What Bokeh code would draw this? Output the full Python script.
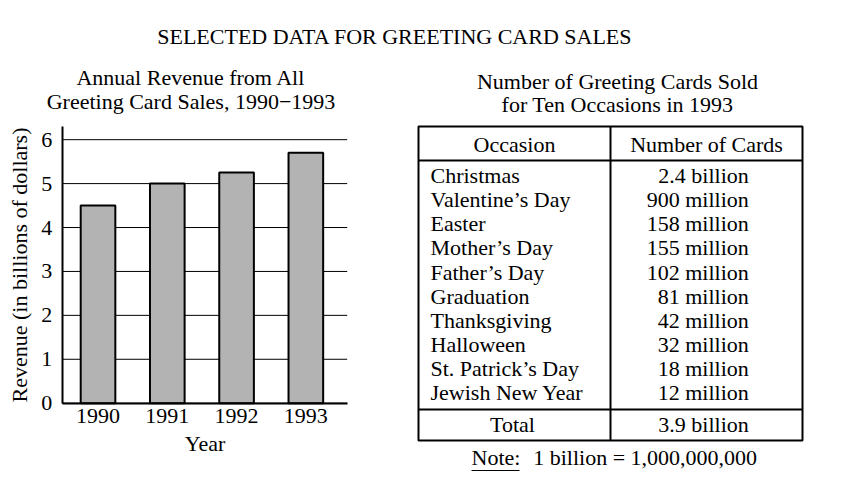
from bokeh.plotting import figure
from bokeh.models import Range1d, FixedTicker, ColumnDataSource, LinearAxis
from bokeh.core.properties import value
from bokeh.embed import file_html
from bokeh.resources import INLINE

# ---------------- data ----------------
main_title = "SELECTED DATA FOR GREETING CARD SALES"
chart_title = ["Annual Revenue from All", "Greeting Card Sales, 1990\u22121993"]
table_title = ["Number of Greeting Cards Sold", "for Ten Occasions in 1993"]

years = [1990, 1991, 1992, 1993]
revenue = [4.5, 5.0, 5.25, 5.7]
y_ticks = [0, 1, 2, 3, 4, 5, 6]
x_label = "Year"
y_label = "Revenue (in billions of dollars)"

table_headers = ["Occasion", "Number of Cards"]
occasions = ["Christmas", "Valentine\u2019s Day", "Easter", "Mother\u2019s Day",
             "Father\u2019s Day", "Graduation", "Thanksgiving", "Halloween",
             "St. Patrick\u2019s Day", "Jewish New Year"]
cards = ["2.4 billion", "900 million", "158 million", "155 million",
         "102 million", "81 million", "42 million", "32 million",
         "18 million", "12 million"]
total_label = "Total"
total_value = "3.9 billion"
note_label = "Note:"
note_text = "1 billion = 1,000,000,000"

FONT = "Liberation Serif"
FS = "22px"

# ---------------- canvas (one figure, pixel-like base ranges) ----------------
W, H = 840, 486
OX, OY = 0, 0   # page offset of the canvas
TDY = 8         # vertical correction for text baselines


def X(px):
    return px - OX


def Y(py):
    return (OY + H) - py


def TY(py):
    return Y(py - TDY)


# bar-chart box (page pixels) and its data extents
BX0, BX1 = 61.7, 346.7
BY0, BY1 = 402.7, 126.0
yr_lo, yr_hi = 1989.483, 1993.597
rv_lo, rv_hi = 0.0, 6.3
sx = (yr_hi - yr_lo) / (BX1 - BX0)
sy = (rv_hi - rv_lo) / (BY0 - BY1)
yr_start = yr_lo - (BX0 - OX) * sx
yr_end = yr_hi + (OX + W - BX1) * sx
rv_start = rv_lo - (OY + H - BY0) * sy
rv_end = rv_hi + (BY1 - OY) * sy

p = figure(width=W, height=H, x_range=Range1d(0, W), y_range=Range1d(0, H),
           output_backend="svg", toolbar_location=None, min_border=0,
           x_axis_location=None, y_axis_location=None)
p.grid.visible = False
p.outline_line_color = None
p.extra_x_ranges = {"yr": Range1d(yr_start, yr_end)}
p.extra_y_ranges = {"rv": Range1d(rv_start, rv_end)}


def txt(xs, ys, texts, align):
    p.text(x=xs, y=ys, text=texts, text_font=value(FONT), text_font_size=FS,
           text_align=align, text_baseline="alphabetic", text_color="black")


# ---------------- titles ----------------
txt([X(394.5)], [TY(44)], [main_title], "center")
txt([X(190.5)] * 2, [TY(85), TY(109)], chart_title, "center")
txt([X(617)] * 2, [TY(89), TY(112)], table_title, "center")

# ---------------- bar chart ----------------
p.segment(x0=[yr_lo] * len(y_ticks), x1=[yr_hi] * len(y_ticks), y0=y_ticks, y1=y_ticks,
          x_range_name="yr", y_range_name="rv", line_color="black", line_width=1,
          level="underlay")
src = ColumnDataSource(dict(x=years, top=revenue))
p.vbar(x="x", top="top", width=0.5, bottom=0, source=src,
       x_range_name="yr", y_range_name="rv",
       fill_color="#b3b3b3", line_color="black", line_width=2)

xaxis = LinearAxis(x_range_name="yr", y_range_name="rv", fixed_location=0,
                   bounds=(yr_lo, yr_hi), ticker=FixedTicker(ticks=years), axis_label=x_label)
yaxis = LinearAxis(x_range_name="yr", y_range_name="rv", fixed_location=yr_lo,
                   bounds=(rv_lo, rv_hi), ticker=FixedTicker(ticks=y_ticks), axis_label=y_label)
for ax in (xaxis, yaxis):
    ax.axis_line_color = "black"
    ax.axis_line_width = 2
    ax.major_tick_out = 0
    ax.major_tick_in = 0
    ax.minor_tick_out = 0
    ax.minor_tick_in = 0
    ax.major_label_text_font = FONT
    ax.major_label_text_font_size = FS
    ax.major_label_text_color = "black"
    ax.axis_label_text_font = FONT
    ax.axis_label_text_font_size = FS
    ax.axis_label_text_font_style = "normal"
    ax.axis_label_text_color = "black"
xaxis.major_label_standoff = 6
xaxis.axis_label_standoff = 4
yaxis.major_label_standoff = 10
yaxis.axis_label_standoff = 7
p.add_layout(xaxis, "below")
p.add_layout(yaxis, "left")

# ---------------- table ----------------
TL, TR, TT, TB = X(418), X(802), Y(126), Y(440)
col_sep, head_sep, total_sep = X(610), Y(160), Y(409)
n = len(occasions)
first_base = TY(183.3)
row_h = 24.05

p.rect(x=[(TL + TR) / 2], y=[(TT + TB) / 2], width=[TR - TL], height=[TT - TB],
       fill_color=None, line_color="black", line_width=2)
p.segment(x0=[col_sep, TL, TL], y0=[TT, head_sep, total_sep],
          x1=[col_sep, TR, TR], y1=[TB, head_sep, total_sep],
          line_color="black", line_width=2)

txt([(TL + col_sep) / 2, (col_sep + TR) / 2], [TY(152)] * 2, table_headers, "center")
row_y = [first_base - i * row_h for i in range(n)]
txt([X(430)] * n, row_y, occasions, "left")
txt([X(748.3)] * n, row_y, cards, "right")
txt([X(512)], [TY(431.7)], [total_label], "center")
txt([X(748.3)], [TY(431.7)], [total_value], "right")

# note with underlined "Note:"
txt([X(471)], [TY(465)], [note_label], "left")
txt([X(532.7)], [TY(465)], [note_text], "left")
p.segment(x0=[X(471)], y0=[Y(470)], x1=[X(519)], y1=[Y(470)], line_color="black", line_width=1)

open("out.html", "w").write(file_html(p, INLINE))
